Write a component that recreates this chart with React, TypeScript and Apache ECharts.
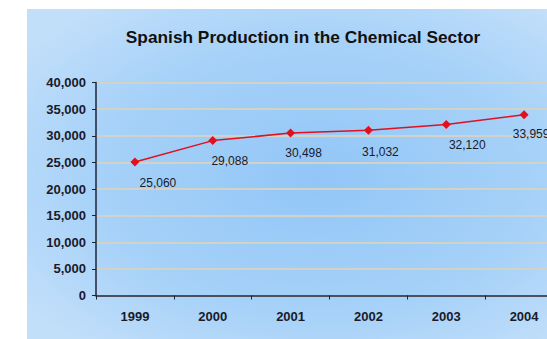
import React, { useEffect, useRef } from "react";
import * as echarts from "echarts";

const categories = ["1999", "2000", "2001", "2002", "2003", "2004"];
const production = [25060, 29088, 30498, 31032, 32120, 33959];
const titleText = "Spanish Production in the Chemical Sector";
// nudges of the value labels, as placed in the original
const labelShiftX = [23, 17, 13, 12, 21, 7];
const labelShiftY = [5, 5, 4, 6, 5, 4];

export default function App() {
  const ref = useRef<HTMLDivElement>(null);
  useEffect(() => {
    if (!ref.current) return;
    const chart = echarts.init(ref.current, null, { renderer: "svg" });
    const font = "Arial, Liberation Sans, sans-serif";
    chart.setOption({
      animation: false,
      backgroundColor: "#ffffff",
      graphic: [
        {
          type: "rect",
          z: -10,
          silent: true,
          shape: { x: 27, y: 9, width: 560, height: 340 },
          style: {
            fill: {
              type: "radial",
              x: 0.52,
              y: 0.5,
              r: 0.65,
              colorStops: [
                { offset: 0, color: "#92c6f7" },
                { offset: 0.6, color: "#a6d1f8" },
                { offset: 1, color: "#c2dffa" },
              ],
            },
          },
        },
      ],
      title: {
        text: titleText,
        left: 298,
        textAlign: "center",
        top: 23,
        textStyle: {
          fontFamily: font,
          fontSize: 17.3,
          fontWeight: "bold",
          color: "#111111",
        },
      },
      grid: { left: 96, right: 17, top: 82.5, bottom: 43.5, containLabel: false },
      xAxis: {
        type: "category",
        data: categories,
        boundaryGap: true,
        axisLine: { lineStyle: { color: "#1c2438", width: 1.5 } },
        axisTick: { show: true, length: 4, lineStyle: { color: "#1c2438" } },
        axisLabel: {
          margin: 14,
          fontFamily: font,
          fontSize: 13,
          fontWeight: "bold",
          color: "#1a1a2a",
        },
        splitLine: { show: false },
      },
      yAxis: {
        type: "value",
        min: 0,
        max: 40000,
        interval: 5000,
        axisLine: { show: true, lineStyle: { color: "#1c2438", width: 1.5 } },
        axisTick: { show: true, length: 4, lineStyle: { color: "#1c2438" } },
        axisLabel: {
          margin: 10,
          fontFamily: font,
          fontSize: 13,
          fontWeight: "bold",
          color: "#1a1a2a",
          formatter: (v: number) => v.toLocaleString("en-US"),
        },
        splitLine: { show: true, lineStyle: { color: "#d3d2c6", width: 2 } },
      },
      series: [
        {
          type: "line",
          data: production.map((v, i) => ({
            value: v,
            label: { offset: [labelShiftX[i], labelShiftY[i]] },
          })),
          symbol: "diamond",
          symbolSize: 9,
          itemStyle: { color: "#e0101e" },
          lineStyle: { color: "#e0101e", width: 1.5 },
          label: {
            show: true,
            position: "bottom",
            distance: 5,
            fontFamily: font,
            fontSize: 12,
            color: "#1a1a2a",
            formatter: (p: any) => Number(p.value).toLocaleString("en-US"),
          },
        },
      ],
    });
    return () => chart.dispose();
  }, []);
  return (
    <div
      style={{ position: "absolute", left: 0, top: 0, width: 547, height: 339, overflow: "hidden" }}
    >
      <div ref={ref} style={{ width: 580, height: 339 }} />
    </div>
  );
}
